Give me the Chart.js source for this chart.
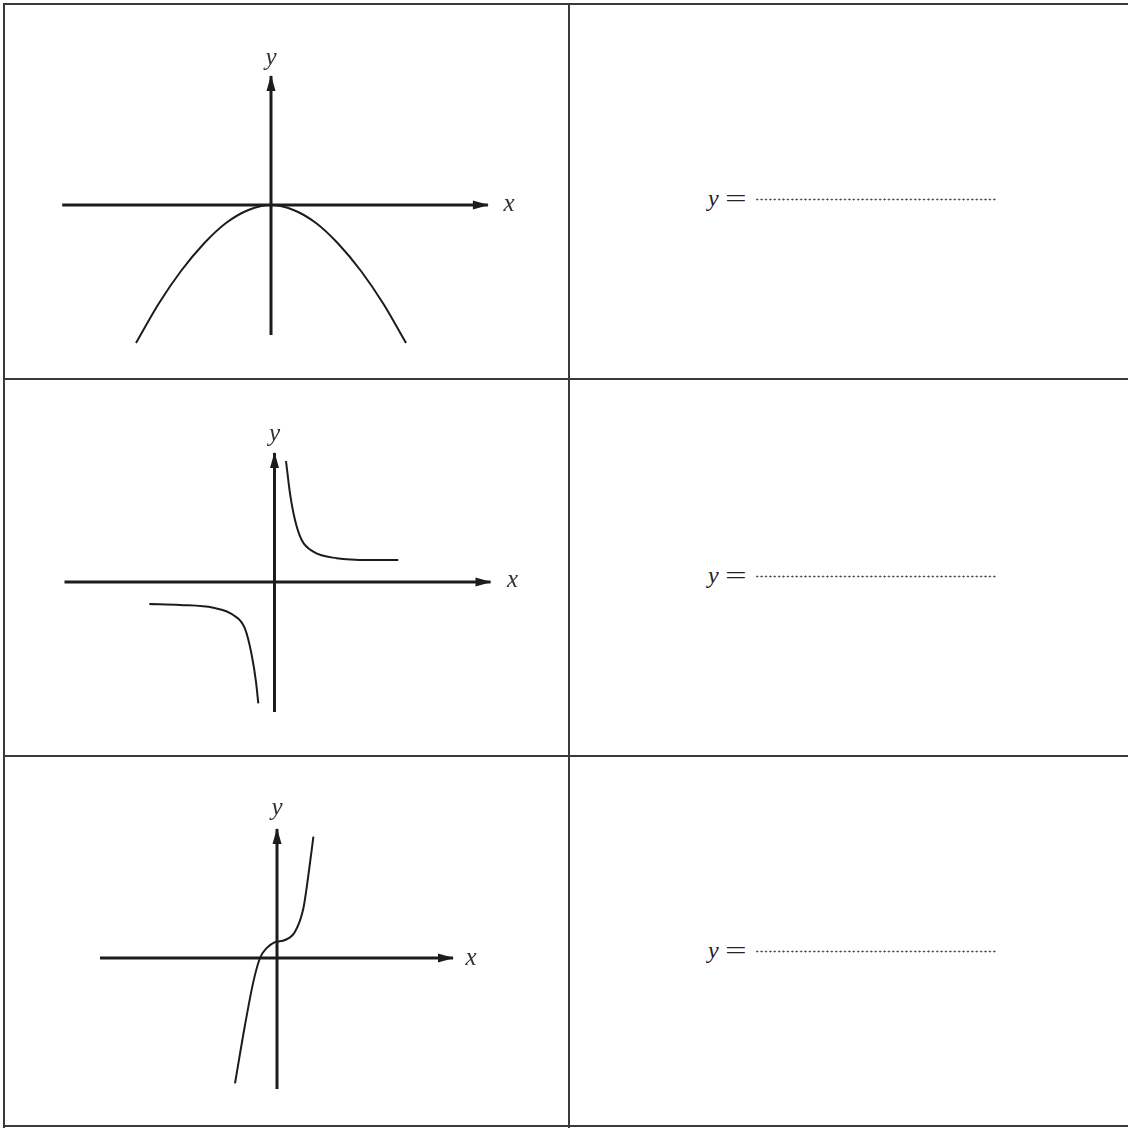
<!DOCTYPE html>
<html>
<head>
<meta charset="utf-8">
<script src="https://cdn.jsdelivr.net/npm/chart.js@4.4.1/dist/chart.umd.min.js"></script>
<style>
    body { margin: 0; background: #fff; }
    #page { position: relative; width: 1128px; height: 1128px; overflow: hidden; background: #fff; }
    .ln { position: absolute; background: #3a3a3a; }
    canvas { position: absolute; }
    .ans { position: absolute; left: 708px; font-family: "Liberation Serif", "DejaVu Serif", serif; font-size: 24px; line-height: 1; color: #222; white-space: nowrap; }
    .ans i { font-style: italic; }
    .ans .eq { display: inline-block; transform: scaleX(1.6); transform-origin: left center; margin-left: 6px; }
    .dots { position: absolute; left: 755px; width: 241px; height: 3px;
        background-image: radial-gradient(circle, #444 0.8px, transparent 1.2px);
        background-size: 4.4px 3px; background-repeat: repeat-x; }
</style>
</head>
<body>
<div id="page">
    <canvas id="c1"></canvas>
    <canvas id="c2"></canvas>
    <canvas id="c3"></canvas>

    <!-- table lines -->
    <div class="ln" style="left:3px;top:3px;width:1125px;height:2px"></div>
    <div class="ln" style="left:3px;top:3px;width:2px;height:1125px"></div>
    <div class="ln" style="left:568px;top:3px;width:2px;height:1125px"></div>
    <div class="ln" style="left:3px;top:378px;width:1125px;height:2px"></div>
    <div class="ln" style="left:3px;top:755px;width:1125px;height:2px"></div>
    <div class="ln" style="left:3px;top:1125px;width:1125px;height:2px"></div>

    <div class="ans" style="top:186px"><i>y</i><span class="eq">=</span></div>
    <div class="dots" style="top:198px"></div>
    <div class="ans" style="top:563px"><i>y</i><span class="eq">=</span></div>
    <div class="dots" style="top:575px"></div>
    <div class="ans" style="top:938px"><i>y</i><span class="eq">=</span></div>
    <div class="dots" style="top:950px"></div>
</div>

<script>
// graph 1 : parabola, vertex at origin
const parabolaX = [-3, -2.5, -2, -1.5, -1, -0.5, 0, 0.5, 1, 1.5, 2, 2.5, 3];
const parabolaY = [-9.2, -6.6, -4.4, -2.6, -1.2, -0.33, 0, -0.33, -1.2, -2.6, -4.4, -6.6, -9.2];

// graph 2 : two branches
const upperX = [0.575, 0.775, 1.025, 1.36, 1.94, 3.11, 4.78, 6.19];
const upperY = [6.05, 4.43, 3.1, 2.1, 1.52, 1.19, 1.1, 1.1];
const lowerX = [-6.26, -4.73, -3.06, -2.06, -1.48, -1.14, -0.925, -0.81];
const lowerY = [-1.1, -1.15, -1.29, -1.65, -2.32, -3.65, -4.99, -6.07];

// graph 3 : cubic
const cubicX = [-2.1, -1.6, -1.18, -0.85, -0.52, -0.1, 0.4, 0.9, 1.32, 1.57, 1.82];
const cubicY = [-6.27, -3.35, -1.18, 0, 0.49, 0.79, 0.9, 1.31, 2.49, 4.15, 6.07];

// axis extents [start, arrow tip] for each graph
const axisX1 = [-4.64, 4.82], axisY1 = [-8.67, 8.6];
const axisX2 = [-10.5, 10.8], axisY2 = [-6.5, 6.45];
const axisX3 = [-8.85, 8.8], axisY3 = [-6.55, 6.45];

// axis names
const axisNames = ["x", "y"];
const namePos1 = [[5.29, 0.07], [0, 9.8]];
const namePos2 = [[11.9, 0.1], [0, 7.37]];
const namePos3 = [[9.7, 0], [0, 7.47]];

const ink = "#1c1c1c";

function pts(xs, ys) {
    return xs.map((v, i) => ({ x: v, y: ys[i] }));
}

// draws arrow heads on axis ends and the x / y names
const sketchPlugin = {
    id: "sketch",
    afterDatasetsDraw(chart, args, opts) {
        const ctx = chart.ctx;
        const sx = chart.scales.x, sy = chart.scales.y;
        ctx.save();
        ctx.fillStyle = ink;
        (opts.arrows || []).forEach(i => {
            const d = chart.data.datasets[i].data;
            const a = d[d.length - 2], b = d[d.length - 1];
            const x1 = sx.getPixelForValue(a.x), y1 = sy.getPixelForValue(a.y);
            const x2 = sx.getPixelForValue(b.x), y2 = sy.getPixelForValue(b.y);
            const ang = Math.atan2(y2 - y1, x2 - x1);
            const L = 15, W = 4.5;
            const c = Math.cos(ang), s = Math.sin(ang);
            ctx.beginPath();
            ctx.moveTo(x2 + c, y2 + s);
            ctx.lineTo(x2 - L * c + W * s, y2 - L * s - W * c);
            ctx.lineTo(x2 - L * c - W * s, y2 - L * s + W * c);
            ctx.closePath();
            ctx.fill();
        });
        ctx.font = 'italic 25px "Liberation Serif", "DejaVu Serif", serif';
        ctx.textAlign = "center";
        ctx.textBaseline = "middle";
        ctx.fillStyle = "#333";
        (opts.names || []).forEach((p, i) => {
            ctx.fillText(axisNames[i], sx.getPixelForValue(p[0]), sy.getPixelForValue(p[1]));
        });
        ctx.restore();
    }
};

function axisSet(xs, ys) {
    return { data: pts(xs, ys), borderColor: ink, borderWidth: 3, pointRadius: 0, showLine: true, tension: 0 };
}

function curveSet(xs, ys) {
    return { data: pts(xs, ys), borderColor: ink, borderWidth: 2, pointRadius: 0, showLine: true, cubicInterpolationMode: "monotone" };
}

// box = canvas place on page, origin = where the axes cross, unit = px per unit
function makeGraph(id, box, origin, unit, curves, ax, ay, names) {
    const cv = document.getElementById(id);
    cv.width = box.w; cv.height = box.h;
    cv.style.left = box.left + "px";
    cv.style.top = box.top + "px";

    const datasets = [
        axisSet(ax, [0, 0]),
        axisSet([0, 0], ay)
    ].concat(curves);

    new Chart(cv, {
        type: "scatter",
        data: { datasets },
        options: {
            responsive: false,
            animation: false,
            layout: { padding: 0 },
            plugins: {
                legend: { display: false },
                tooltip: { enabled: false },
                sketch: { arrows: [0, 1], names }
            },
            scales: {
                x: { type: "linear", display: false,
                     min: (box.left - origin.x) / unit.x,
                     max: (box.left + box.w - origin.x) / unit.x },
                y: { type: "linear", display: false,
                     min: (origin.y - box.top - box.h) / unit.y,
                     max: (origin.y - box.top) / unit.y }
            }
        },
        plugins: [sketchPlugin]
    });
}

makeGraph("c1", { left: 5, top: 5, w: 563, h: 373 }, { x: 271, y: 205 }, { x: 45, y: 15 },
    [curveSet(parabolaX, parabolaY)], axisX1, axisY1, namePos1);

makeGraph("c2", { left: 5, top: 380, w: 563, h: 375 }, { x: 274.5, y: 582 }, { x: 20, y: 20 },
    [curveSet(upperX, upperY), curveSet(lowerX, lowerY)], axisX2, axisY2, namePos2);

makeGraph("c3", { left: 5, top: 757, w: 563, h: 368 }, { x: 277, y: 958 }, { x: 20, y: 20 },
    [curveSet(cubicX, cubicY)], axisX3, axisY3, namePos3);
</script>
</body>
</html>
